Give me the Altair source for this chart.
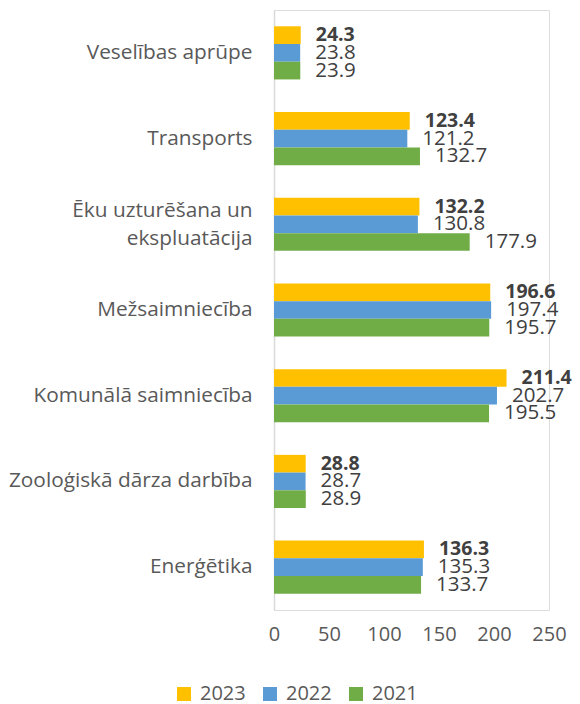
import altair as alt
import pandas as pd

categories = [
    "Veselības aprūpe",
    "Transports",
    "Ēku uzturēšana un|ekspluatācija\u00a0\u00a0\u00a0\u00a0\u00a0\u00a0",
    "Mežsaimniecība",
    "Komunālā saimniecība",
    "Zooloģiskā dārza darbība",
    "Enerģētika",
]
series = ["2023", "2022", "2021"]
v2023 = [24.3, 123.4, 132.2, 196.6, 211.4, 28.8, 136.3]
v2022 = [23.8, 121.2, 130.8, 197.4, 202.7, 28.7, 135.3]
v2021 = [23.9, 132.7, 177.9, 195.7, 195.5, 28.9, 133.7]
colors = ["#FFC000", "#5B9BD5", "#70AD47"]
x_ticks = [0, 50, 100, 150, 200, 250]

rows = []
for s, vals in zip(series, [v2023, v2022, v2021]):
    for c, v in zip(categories, vals):
        rows.append({"cat": c, "series": s, "value": v, "label": f"{v:.1f}"})
df = pd.DataFrame(rows)

FONT = "Open Sans"

y_enc = alt.Y(
    "cat:N",
    sort=categories,
    scale=alt.Scale(paddingInner=0.38, paddingOuter=0.19),
    axis=alt.Axis(
        title=None,
        ticks=False,
        domainColor="#D9D9D9",
        domainWidth=1.5,
        labelFont=FONT,
        labelFontSize=20.8,
        labelColor="#595959",
        labelPadding=22,
        labelLimit=300,
        labelLineHeight=28,
        labelExpr="split(datum.label, '|')",
        labelOffset={"condition": {"test": "indexof(datum.label, '|') >= 0", "value": -13}, "value": 0},
    ),
)
yoff = alt.YOffset("series:N", sort=series, scale=alt.Scale(paddingInner=0, paddingOuter=0))
x_enc = alt.X(
    "value:Q",
    scale=alt.Scale(domain=[0, 250], nice=False),
    axis=alt.Axis(
        title=None,
        values=x_ticks,
        grid=False,
        ticks=False,
        domain=False,
        labelFont=FONT,
        labelFontSize=20,
        labelColor="#595959",
        labelPadding=14,
        labelFlush=False,
    ),
)

bars = alt.Chart(df).mark_bar().encode(
    y=y_enc,
    yOffset=yoff,
    x=x_enc,
    color=alt.Color(
        "series:N",
        sort=series,
        scale=alt.Scale(domain=series, range=colors),
        legend=alt.Legend(
            title=None,
            orient="none",
            direction="horizontal",
            legendX=-100,
            legendY=674,
            symbolType="square",
            symbolSize=196,
            symbolStrokeWidth=0,
            labelFont=FONT,
            labelFontSize=20,
            labelColor="#595959",
            labelOffset=6,
            columnPadding=14,
        ),
    ),
)

text_bold = alt.Chart(df).transform_filter("datum.series == '2023'").mark_text(
    align="left", baseline="middle", dx=15, font=FONT, fontSize=19.5, fontWeight="bold", color="#404040"
).encode(y=alt.Y("cat:N", sort=categories), yOffset=yoff, x="value:Q", text="label:N")

text_norm = alt.Chart(df).transform_filter("datum.series != '2023'").mark_text(
    align="left", baseline="middle", dx=15, font=FONT, fontSize=20.5, color="#404040"
).encode(y=alt.Y("cat:N", sort=categories), yOffset=yoff, x="value:Q", text="label:N")

chart = (
    alt.layer(bars, text_bold, text_norm)
    .properties(
        width=275,
        height=600,
        autosize=alt.AutoSizeParams(type="none"),
        padding={"left": 266, "top": 2, "right": 23, "bottom": 100},
    )
    .configure_view(stroke=None)
    .configure(background="white")
)

chart.save("out.html", embed_options={"renderer": "svg", "actions": False})
